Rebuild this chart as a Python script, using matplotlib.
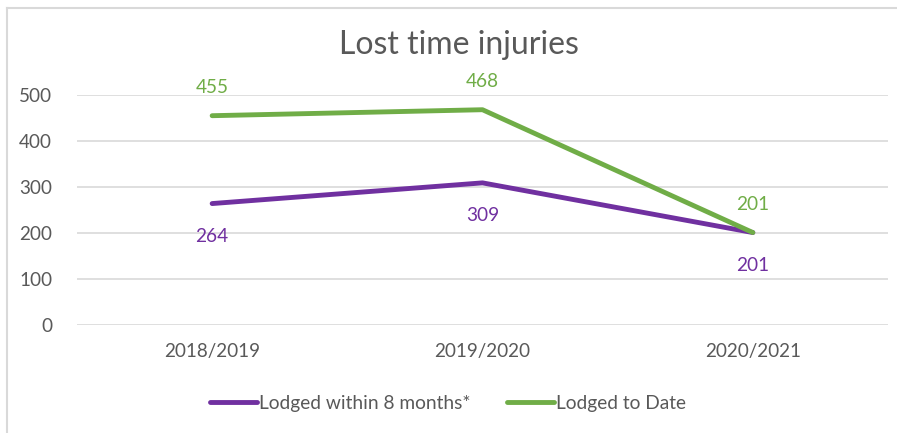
import matplotlib.pyplot as plt
from matplotlib.lines import Line2D

# Lost time injuries by financial year
years = ['2018/2019', '2019/2020', '2020/2021']
within_8_months = [264, 309, 201]
to_date = [455, 468, 201]
series_names = ['Lodged within 8 months*', 'Lodged to Date']

purple = '#7030A0'
green = '#70AD47'
grey_text = '#595959'

plt.rcParams['font.family'] = ['Lato', 'DejaVu Sans']

fig = plt.figure(figsize=(8.97, 4.33), dpi=100)
ax = fig.add_axes([0.0858, 0.2494, 0.9042, 0.5312])

x = range(len(years))
ax.plot(x, within_8_months, color=purple, lw=3.5, solid_capstyle='round',
        label=series_names[0], zorder=3)
ax.plot(x, to_date, color=green, lw=3.5, solid_capstyle='round',
        label=series_names[1], zorder=3)

# data labels: green above, purple below
for i, v in enumerate(to_date):
    ax.annotate(str(v), xy=(i, v), xytext=(0, 14), textcoords='offset points',
                ha='center', va='bottom', color=green, fontsize=13.7,
                annotation_clip=False)
for i, v in enumerate(within_8_months):
    ax.annotate(str(v), xy=(i, v), xytext=(0, -17.5), textcoords='offset points',
                ha='center', va='top', color=purple, fontsize=13.7,
                annotation_clip=False)

ax.set_xlim(-0.5, 2.5)
ax.set_ylim(0, 500)
ax.set_yticks(range(0, 501, 100))
ax.set_xticks(list(x))
ax.set_xticklabels(years)
ax.grid(axis='y', color='#D9D9D9', lw=1.2)
ax.set_axisbelow(True)
for s in ax.spines.values():
    s.set_visible(False)
ax.tick_params(length=0, labelsize=13.6, colors=grey_text)
ax.tick_params(axis='x', pad=13)
ax.tick_params(axis='y', pad=18)

fig.text(0.512, 0.897, 'Lost time injuries', ha='center', va='center',
         fontsize=23, color=grey_text)

handles = [Line2D([], [], color=purple, lw=3.5, solid_capstyle='round'),
           Line2D([], [], color=green, lw=3.5, solid_capstyle='round')]
fig.legend(handles, series_names, loc='center', bbox_to_anchor=(0.4995, 0.069),
           ncol=2, frameon=False, fontsize=13.8, labelcolor=grey_text,
           handlelength=2.45, handletextpad=0.1, columnspacing=1.9)

# light chart border (left and top edges visible)
fig.add_artist(Line2D([7 / 897, 7 / 897], [0, 1 - 8 / 433], color='#D9D9D9', lw=1.5))
fig.add_artist(Line2D([7 / 897, 1], [1 - 8 / 433, 1 - 8 / 433], color='#D9D9D9', lw=1.5))

fig.savefig('out.png', dpi=100)
